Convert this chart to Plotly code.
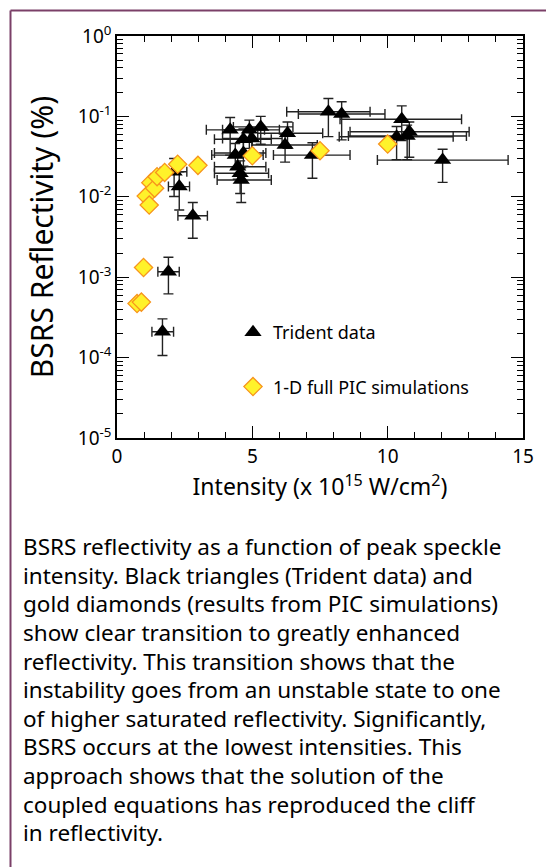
import plotly.graph_objects as go

# Trident data (x = intensity in 1e15 W/cm^2, y = reflectivity %)
tri_x = [1.68, 1.90, 2.80, 2.11, 2.30, 4.18, 4.89, 5.31, 4.67, 4.98, 4.37, 4.67, 4.46, 4.55, 4.59,
         6.30, 6.21, 7.22, 7.81, 8.30, 10.52, 10.80, 10.33, 10.72, 12.03]
tri_y = [2.1e-4, 1.17e-3, 5.8e-3, 0.0205, 0.0134, 0.068, 0.068, 0.074, 0.052, 0.053, 0.033, 0.035,
         0.0236, 0.0196, 0.0162, 0.0616, 0.044, 0.033, 0.114, 0.107, 0.092, 0.0645, 0.0558, 0.057, 0.0286]
tri_x_lo = [1.29, 1.51, 2.25, 1.60, 1.90, 3.30, 3.90, 4.30, 3.60, 3.90, 3.50, 3.60, 3.60, 3.60, 3.70,
            5.20, 5.00, 5.78, 6.27, 6.70, 8.24, 8.61, 8.21, 8.55, 9.62]
tri_x_hi = [2.09, 2.30, 3.34, 2.58, 2.68, 5.45, 6.00, 6.50, 5.70, 6.10, 5.40, 5.50, 5.50, 5.60, 5.70,
            7.60, 7.40, 8.61, 9.35, 9.90, 12.73, 13.01, 12.42, 12.91, 14.45]
tri_y_lo = [1.06e-4, 6.2e-4, 3.05e-3, 0.0101, 0.00686, 0.033, 0.040, 0.045, 0.035, 0.036, 0.022, 0.024,
            0.0165, 0.011, 0.0085, 0.040, 0.027, 0.017, 0.056, 0.051, 0.050, 0.031, 0.029, 0.029, 0.0151]
tri_y_hi = [3.03e-4, 1.77e-3, 8.5e-3, 0.030, 0.0204, 0.097, 0.090, 0.100, 0.070, 0.072, 0.046, 0.048,
            0.033, 0.028, 0.023, 0.085, 0.060, 0.047, 0.167, 0.152, 0.135, 0.085, 0.075, 0.078, 0.039]

# 1-D full PIC simulations
pic_x = [0.74, 0.90, 0.98, 1.08, 1.19, 1.25, 1.39, 1.48, 1.76, 2.24, 2.99, 5.0, 7.5, 10.0]
pic_y = [4.7e-4, 4.9e-4, 1.32e-3, 0.0102, 0.0079, 0.015, 0.0128, 0.0178, 0.0201, 0.0254, 0.0246,
         0.0324, 0.0374, 0.0453]

x_tickvals = [0, 5, 10, 15]
x_minorvals = list(range(0, 16))
y_tickvals = [1, 0.1, 0.01, 0.001, 1e-4, 1e-5]
y_ticktext = ["10<sup>0</sup>", "10<sup>-1</sup>", "10<sup>-2</sup>", "10<sup>-3</sup>",
              "10<sup>-4</sup>", "10<sup>-5</sup>"]
y_minorvals = [m * d for d in (1e-5, 1e-4, 1e-3, 1e-2, 1e-1) for m in range(2, 10)]

caption_lines = [
    "BSRS reflectivity as a function of peak speckle",
    "intensity. Black triangles (Trident data) and",
    "gold diamonds (results from PIC simulations)",
    "show clear transition to greatly enhanced",
    "reflectivity. This transition shows that the",
    "instability goes from an unstable state to one",
    "of higher saturated reflectivity. Significantly,",
    "BSRS occurs at the lowest intensities. This",
    "approach shows that the solution of the",
    "coupled equations has reproduced the cliff",
    "in reflectivity.",
]

FONT = "Noto Sans"
W, H = 546, 867
L, R, T, B = 117, 523, 36, 438

fig = go.Figure()
# invisible copy so the mirrored top/right axes are drawn
fig.add_trace(go.Scatter(
    x=pic_x, y=pic_y, xaxis="x2", yaxis="y2", mode="markers", showlegend=False,
    hoverinfo="skip", marker=dict(opacity=0, size=1),
))
fig.add_trace(go.Scatter(
    x=tri_x, y=tri_y, mode="markers", name="Trident data", legendgroup="a",
    marker=dict(symbol="triangle-up", size=15, color="black"),
    error_x=dict(type="data", symmetric=False,
                 array=[h - x for h, x in zip(tri_x_hi, tri_x)],
                 arrayminus=[x - l for l, x in zip(tri_x_lo, tri_x)],
                 color="#222222", thickness=1.4, width=5),
    error_y=dict(type="data", symmetric=False,
                 array=[h - y for h, y in zip(tri_y_hi, tri_y)],
                 arrayminus=[y - l for l, y in zip(tri_y_lo, tri_y)],
                 color="#222222", thickness=1.4, width=5),
))
fig.add_trace(go.Scatter(
    x=pic_x, y=pic_y, mode="markers", name="1-D full PIC simulations", legendgroup="b",
    marker=dict(symbol="diamond", size=14, color="#FFF22A",
                line=dict(color="#F7941D", width=1.3)),
))

xminor = dict(ticks="inside", ticklen=6, tickmode="array", tickvals=x_minorvals,
              tickcolor="black", showgrid=False)
yminor = dict(ticks="inside", ticklen=6, tickmode="array", tickvals=y_minorvals,
              tickcolor="black", showgrid=False)
common = dict(ticks="inside", ticklen=12, tickwidth=1, tickcolor="black", showline=True,
              linecolor="black", linewidth=1.5, showgrid=False, zeroline=False)

fig.update_layout(
    width=W, height=H,
    margin=dict(l=L, r=W - R, t=T, b=H - B, pad=0),
    paper_bgcolor="white", plot_bgcolor="white",
    font=dict(family=FONT, size=19, color="black"),
    showlegend=True,
    legend=dict(x=(233 - L) / (R - L), y=(B - 314) / (B - T), xanchor="left", yanchor="top",
                bgcolor="rgba(0,0,0,0)", font=dict(size=18), tracegroupgap=28,
                itemwidth=30),
    xaxis=dict(
        range=[0, 15], tickmode="array", tickvals=x_tickvals, tickfont=dict(size=19),
        minor=xminor, **common,
        title=dict(text="Intensity (x 10<sup>15</sup> W/cm<sup>2</sup>)", font=dict(size=23),
                   standoff=6),
    ),
    xaxis2=dict(
        overlaying="x", side="top", anchor="y2", range=[0, 15], tickmode="array",
        tickvals=x_tickvals, showticklabels=False, minor=xminor, **common,
    ),
    yaxis=dict(
        type="log", range=[-5, 0], tickmode="array", tickvals=y_tickvals, ticktext=y_ticktext,
        tickfont=dict(size=19), minor=yminor, **common,
        title=dict(text="BSRS Reflectivity (%)", font=dict(size=30), standoff=15),
    ),
    yaxis2=dict(
        overlaying="y", side="right", anchor="x2", type="log", range=[-5, 0],
        tickmode="array", tickvals=y_tickvals, showticklabels=False, minor=yminor, **common,
    ),
)

# frame border (left and top)
border = "#7B4068"
fig.add_shape(type="line", xref="paper", yref="paper",
              x0=(10.5 - L) / (R - L), x1=(10.5 - L) / (R - L),
              y0=(B - H) / (B - T), y1=(B - 10.5) / (B - T),
              line=dict(color=border, width=2))
fig.add_shape(type="line", xref="paper", yref="paper",
              x0=(10.5 - L) / (R - L), x1=(W - L) / (R - L),
              y0=(B - 10.5) / (B - T), y1=(B - 10.5) / (B - T),
              line=dict(color=border, width=2))

# caption
for i, line in enumerate(caption_lines):
    ypx = 546.7 + i * 28.6
    fig.add_annotation(text=line, xref="paper", yref="paper",
                       x=(21 - L) / (R - L), y=(B - ypx) / (B - T),
                       xanchor="left", yanchor="middle", showarrow=False,
                       font=dict(family=FONT, size=22.5, color="black"))

fig.write_html("out.html")
